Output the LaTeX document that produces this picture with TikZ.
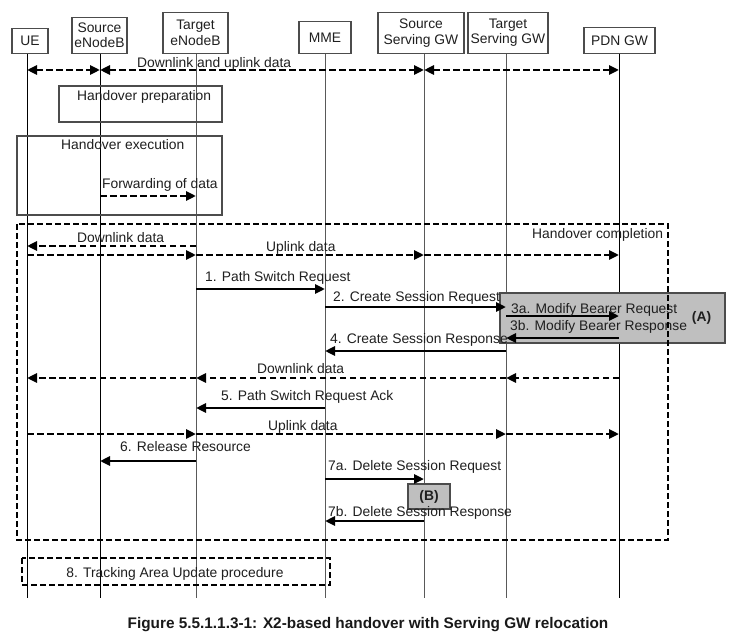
\documentclass[tikz,border=0pt]{standalone}
\usepackage{fontspec}
\setmainfont{Liberation Sans}
\usetikzlibrary{arrows.meta}
\begin{document}
\begin{tikzpicture}[x=1bp,y=-1bp,
  >={Triangle[length=10bp,width=9bp]},
  txt/.style={font=\fontsize{13.9}{15.5}\selectfont, text=black!88, inner sep=0},
  lbl/.style={txt, anchor=base west},
  actor/.style={txt, draw=black!70, line width=1.1bp, fill=white, align=center, anchor=south},
  life/.style={line width=1bp},
  msg/.style={->, line width=2.6bp},
  data/.style={msg, dash pattern=on 6.5bp off 3.5bp},
  phase/.style={draw=black!70, line width=1.1bp},
  dframe/.style={draw=black, line width=2bp, dash pattern=on 6bp off 3bp},
  graybox/.style={draw=black!70, line width=1.1bp, fill=black!25, inner sep=0}
]
% canvas
\fill[white] (0,0) rectangle (752,643);
\useasboundingbox (0,0) rectangle (752,643);

% entities
\node[actor, minimum width=36bp, minimum height=25bp] (ueBox)   at (30,54)    {UE};
\node[actor, minimum width=55bp, minimum height=36bp] (senbBox) at (99.5,54)  {Source\\eNodeB};
\node[actor, minimum width=65bp, minimum height=41bp] (tenbBox) at (195.5,54) {Target\\eNodeB};
\node[actor, minimum width=52bp, minimum height=32bp] (mmeBox)  at (325,54)   {MME};
\node[actor, minimum width=86bp, minimum height=41bp] (ssgwBox) at (421,54)   {Source\\Serving GW};
\node[actor, minimum width=80bp, minimum height=41bp] (tsgwBox) at (508,54)   {Target\\Serving GW};
\node[actor, minimum width=71bp, minimum height=26bp] (pdnBox)  at (619.5,54) {PDN GW};

% lifeline positions
\coordinate (UE)   at (27,54);
\coordinate (SeNB) at (100,54);
\coordinate (TeNB) at (196,54);
\coordinate (MME)  at (325,54);
\coordinate (SSGW) at (424,54);
\coordinate (TSGW) at (506,54);
\coordinate (PDN)  at (619,54);
\coordinate (bottom) at (0,598);

\foreach \l/\c in {UE/black, SeNB/black, TeNB/black!65, MME/black!65, SSGW/black!65, TSGW/black!65, PDN/black}
  \draw[life, draw=\c] (\l) -- (\l |- bottom);

% message rows
\coordinate (d0)  at (0,70);
\coordinate (fwd) at (0,196);
\coordinate (dl1) at (0,246);
\coordinate (ul1) at (0,255);
\coordinate (m1)  at (0,289);
\coordinate (m2)  at (0,307);
\coordinate (m3a) at (0,316);
\coordinate (m3b) at (0,338);
\coordinate (m4)  at (0,351);
\coordinate (dl2) at (0,378);
\coordinate (m5)  at (0,408);
\coordinate (ul2) at (0,434);
\coordinate (m6)  at (0,461);
\coordinate (m7a) at (0,479);
\coordinate (m7b) at (0,521);

% shaded procedure boxes
\node[graybox, minimum width=225bp, minimum height=50bp] (boxA) at (612.5,318) {};
\node[txt, font=\fontsize{13.9}{15.5}\selectfont\bfseries] (labA) at (701.5,318) {(A)};
\node[graybox, minimum width=42bp, minimum height=25bp, txt, draw=black!70, fill=black!25, font=\fontsize{13.9}{15.5}\selectfont\bfseries] (boxB) at (429,496.5) {(B)};

% phase boxes
\draw[phase] (59,86) rectangle (222,122);
\node[lbl] (prep) at (77,101) {Handover preparation};
\draw[phase] (17,136) rectangle (222,215);
\node[lbl] (exec) at (61,150) {Handover execution};

% initial user plane
\draw[data,<->] (UE |- d0) -- (SeNB |- d0);
\draw[data,<->] (SeNB |- d0) -- (SSGW |- d0);
\draw[data,<->] (SSGW |- d0) -- (PDN |- d0);
\node[lbl] (dlul) at (137,68) {Downlink and uplink data};

% forwarding
\draw[data] (SeNB |- fwd) -- (TeNB |- fwd);
\node[lbl] (fwdl) at (102,189) {Forwarding of data};

% completion phase
\draw[data] (TeNB |- dl1) -- (UE |- dl1);
\node[lbl] (dl1l) at (77,242) {Downlink data};
\draw[data] (UE |- ul1) -- (TeNB |- ul1);
\draw[data] (TeNB |- ul1) -- (SSGW |- ul1);
\draw[data] (SSGW |- ul1) -- (PDN |- ul1);
\node[lbl] (ul1l) at (266,251) {Uplink data};

\draw[msg] (TeNB |- m1) -- (MME |- m1);
\node[lbl] (m1l) at (205,281) {1. Path Switch Request};
\draw[msg] (MME |- m2) -- (TSGW |- m2);
\node[lbl] (m2l) at (333,301) {2. Create Session Request};
\draw[msg] (TSGW |- m3a) -- (PDN |- m3a);
\node[lbl] (m3al) at (511,313) {3a. Modify Bearer Request};
\draw[msg] (PDN |- m3b) -- (TSGW |- m3b);
\node[lbl] (m3bl) at (510,330) {3b. Modify Bearer Response};
\draw[msg] (TSGW |- m4) -- (MME |- m4);
\node[lbl] (m4l) at (330,343) {4. Create Session Response};

\draw[data] (PDN |- dl2) -- (TSGW |- dl2);
\draw[data] (TSGW |- dl2) -- (TeNB |- dl2);
\draw[data] (TeNB |- dl2) -- (UE |- dl2);
\node[lbl] (dl2l) at (257,373) {Downlink data};

\draw[msg] (MME |- m5) -- (TeNB |- m5);
\node[lbl] (m5l) at (221,400) {5. Path Switch Request Ack};

\draw[data] (UE |- ul2) -- (TeNB |- ul2);
\draw[data] (TeNB |- ul2) -- (TSGW |- ul2);
\draw[data] (TSGW |- ul2) -- (PDN |- ul2);
\node[lbl] (ul2l) at (268,430) {Uplink data};

\draw[msg] (TeNB |- m6) -- (SeNB |- m6);
\node[lbl] (m6l) at (120,451) {6. Release Resource};
\draw[msg] (MME |- m7a) -- (SSGW |- m7a);
\node[lbl] (m7al) at (328,470) {7a. Delete Session Request};
\draw[msg] (SSGW |- m7b) -- (MME |- m7b);
\node[lbl] (m7bl) at (328,516) {7b. Delete Session Response};

\draw[dframe] (17,224) rectangle (668,540);
\node[lbl] (compl) at (532,238) {Handover completion};

% tracking area update
\draw[dframe] (22,558) rectangle (330,585);
\node[txt, anchor=base] (tau) at (175,577) {8. Tracking Area Update procedure};

% caption
\node[txt, anchor=base, font=\fontsize{15.4}{18}\selectfont\bfseries, text=black!90] (caption) at (368,628)
  {Figure 5.5.1.1.3-1: X2-based handover with Serving GW relocation};
\end{tikzpicture}
\end{document}
